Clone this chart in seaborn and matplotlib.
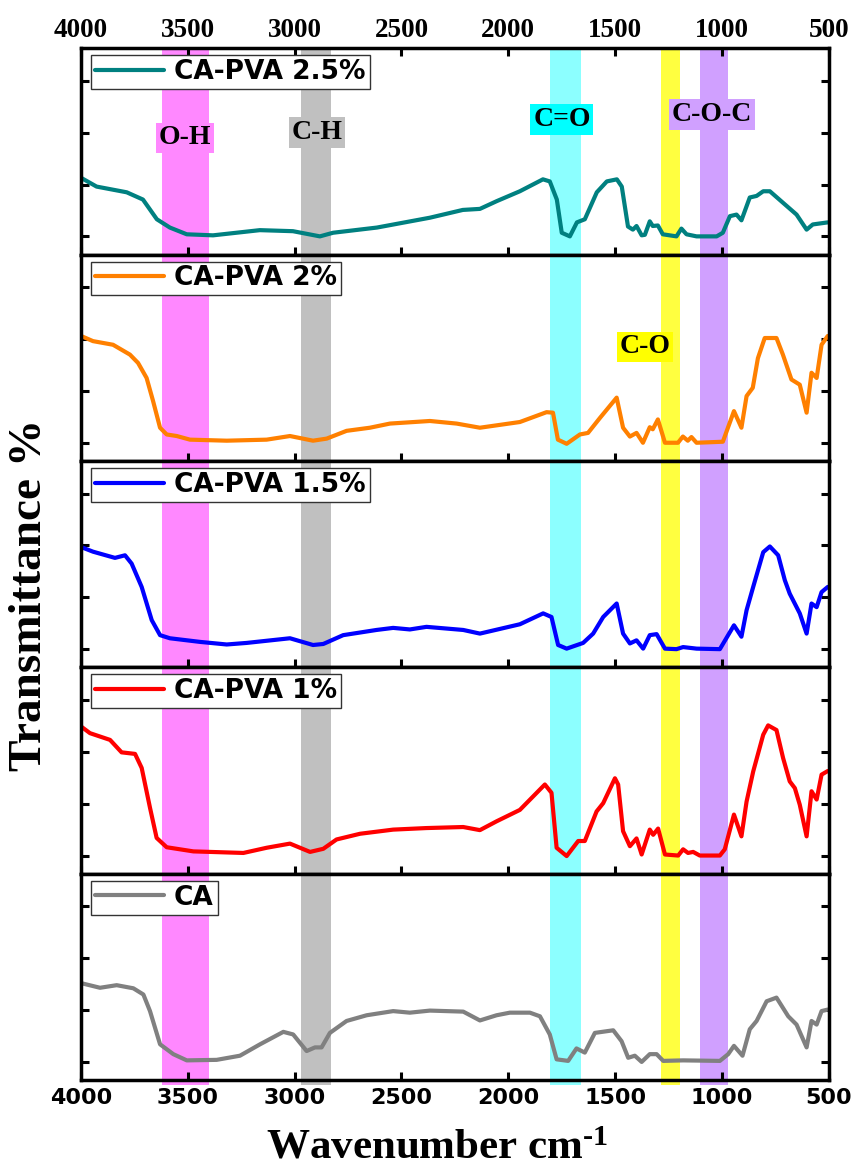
import matplotlib
matplotlib.use("Agg")
import matplotlib.pyplot as plt
import seaborn as sns
import pandas as pd

# ---------------- data ----------------
wn_t = [4000,3927,3786,3710,3645,3584,3505,3382,3163,3008,2882,2820,2615,2367,2213,2133,2054,1946,1838,1806,1773,1750,1712,1679,1642,1586,1539,1492,1469,1440,1417,1400,1376,1361,1338,1324,1300,1277,1213,1190,1166,1119,1025,996,963,932,909,870,838,807,776,715,651,604,575,505]
tr_t = [1.13,0.96,0.85,0.71,0.33,0.17,0.04,0.02,0.12,0.10,0.0,0.07,0.17,0.36,0.51,0.53,0.68,0.87,1.10,1.06,0.71,0.07,0.0,0.27,0.33,0.85,1.06,1.10,0.96,0.19,0.13,0.20,0.02,0.03,0.29,0.20,0.21,0.04,0.0,0.15,0.04,0.0,0.0,0.07,0.39,0.42,0.31,0.75,0.78,0.87,0.87,0.65,0.42,0.13,0.23,0.27]

wn_o = [4000,3944,3850,3771,3733,3693,3663,3630,3599,3552,3490,3318,3131,3022,2914,2850,2757,2648,2554,2367,2242,2133,1946,1821,1791,1768,1727,1665,1627,1571,1493,1463,1431,1400,1370,1338,1324,1300,1267,1206,1183,1160,1143,1119,996,944,909,885,856,832,800,745,715,675,636,604,581,557,534,505]
tr_o = [2.06,1.96,1.89,1.70,1.54,1.25,0.81,0.29,0.16,0.13,0.06,0.04,0.06,0.13,0.04,0.08,0.23,0.29,0.37,0.42,0.37,0.29,0.40,0.59,0.58,0.06,-0.02,0.16,0.19,0.48,0.87,0.29,0.12,0.19,0.0,0.30,0.26,0.45,0.0,0.0,0.12,0.04,0.11,0.0,0.02,0.61,0.29,0.90,1.06,1.63,2.02,2.02,1.70,1.22,1.12,0.58,1.35,1.25,1.89,2.06]

wn_b = [4000,3944,3841,3794,3763,3716,3669,3630,3584,3443,3318,3225,3022,2914,2866,2773,2617,2539,2461,2383,2211,2133,1946,1837,1798,1767,1727,1650,1603,1556,1493,1463,1431,1400,1369,1338,1306,1267,1213,1182,1119,1010,944,909,885,854,807,776,737,706,683,636,604,581,557,534,505]
tr_b = [1.97,1.88,1.76,1.81,1.65,1.20,0.56,0.27,0.21,0.14,0.09,0.12,0.21,0.08,0.10,0.27,0.37,0.41,0.38,0.43,0.37,0.30,0.48,0.69,0.62,0.08,0.01,0.12,0.30,0.62,0.88,0.30,0.11,0.17,0.01,0.27,0.29,0.01,0.0,0.04,0.01,0.0,0.46,0.24,0.75,1.20,1.87,1.98,1.81,1.33,1.07,0.69,0.30,0.88,0.81,1.10,1.20]

wn_r = [4000,3958,3864,3810,3747,3716,3677,3646,3599,3474,3240,3131,3022,2928,2866,2804,2694,2539,2383,2211,2133,2055,1946,1829,1798,1774,1727,1673,1642,1587,1556,1501,1486,1463,1431,1400,1376,1338,1322,1299,1267,1205,1182,1159,1135,1104,1010,987,944,909,885,854,807,784,745,714,683,659,636,604,581,557,534,505]
tr_r = [2.49,2.36,2.23,1.99,1.96,1.69,0.92,0.34,0.16,0.08,0.05,0.15,0.23,0.07,0.13,0.31,0.42,0.50,0.53,0.55,0.49,0.66,0.88,1.37,1.21,0.15,-0.01,0.28,0.28,0.85,1.01,1.49,1.37,0.47,0.18,0.33,0.02,0.50,0.40,0.52,0.02,0.0,0.12,0.05,0.07,0.0,0.0,0.12,0.79,0.37,1.04,1.62,2.33,2.51,2.42,1.88,1.43,1.30,0.98,0.37,1.24,1.08,1.56,1.63]

wn_g = [4000,3911,3833,3755,3708,3677,3630,3568,3505,3365,3256,3162,3053,3007,2944,2905,2874,2835,2757,2663,2539,2461,2367,2211,2133,2055,1993,1899,1852,1806,1774,1720,1681,1642,1595,1509,1470,1439,1408,1376,1338,1306,1275,1182,1010,971,944,904,870,838,791,745,690,651,604,581,557,534,505]
tr_g = [1.52,1.43,1.48,1.42,1.30,0.98,0.34,0.15,0.03,0.04,0.12,0.34,0.58,0.53,0.21,0.28,0.28,0.56,0.79,0.90,0.98,0.95,0.99,0.97,0.80,0.90,0.95,0.95,0.88,0.53,0.05,0.02,0.26,0.18,0.56,0.61,0.40,0.08,0.12,0.0,0.15,0.15,0.02,0.03,0.02,0.15,0.31,0.12,0.63,0.79,1.17,1.24,0.88,0.72,0.28,0.79,0.72,0.98,1.01]

series_names = ["CA-PVA 2.5%", "CA-PVA 2%", "CA-PVA 1.5%", "CA-PVA 1%", "CA"]
series_colors = ["#008080", "#FF8000", "#0000FF", "#FF0000", "#808080"]
series_wn = [wn_t, wn_o, wn_b, wn_r, wn_g]
series_tr = [tr_t, tr_o, tr_b, tr_r, tr_g]

band_names = ["O-H", "C-H", "C=O", "C-O", "C-O-C"]
band_ranges = [(3620, 3400), (2970, 2830), (1805, 1660), (1285, 1195), (1103, 972)]
band_colors = ["#FF88FF", "#C0C0C0", "#8CFFFF", "#FFFF40", "#D0A0FF"]
label_box_colors = ["#FF88FF", "#C0C0C0", "#00FFFF", "#FFFF00", "#D0A0FF"]
label_panel = [0, 0, 0, 1, 0]
label_x = [3513, 2896, 1749, 1361, 1048]
label_y = [1.90, 2.00, 2.25, 1.85, 2.35]

xticks = [4000, 3500, 3000, 2500, 2000, 1500, 1000, 500]

# ---------------- figure ----------------
sns.set_style("ticks")
plt.rcParams["font.family"] = ["DejaVu Sans"]
plt.rcParams["text.color"] = "black"
plt.rcParams["axes.edgecolor"] = "black"
plt.rcParams["xtick.color"] = "black"
plt.rcParams["ytick.color"] = "black"
plt.rcParams["xtick.labelcolor"] = "black"
plt.rcParams["mathtext.fontset"] = "custom"
plt.rcParams["mathtext.rm"] = "Liberation Serif:bold"
plt.rcParams["mathtext.bf"] = "Liberation Serif:bold"
plt.rcParams["mathtext.it"] = "Liberation Serif:bold:italic"

fig, axes = plt.subplots(5, 1, figsize=(8.58, 11.74), dpi=100,
                         gridspec_kw=dict(hspace=0))
fig.subplots_adjust(left=0.0944, right=0.966, top=0.959, bottom=0.080)

for i, ax in enumerate(axes):
    df = pd.DataFrame({"wn": series_wn[i], "T": series_tr[i]})
    for (lo, hi), c in zip(band_ranges, band_colors):
        if i == 4:
            ax.axvspan(lo, hi, ymin=-0.025, ymax=1, color=c, lw=0, zorder=0, clip_on=False)
        else:
            ax.axvspan(lo, hi, color=c, lw=0, zorder=0)
    sns.lineplot(data=df, x="wn", y="T", ax=ax, color=series_colors[i], lw=3.0,
                 sort=False, estimator=None, label=series_names[i], zorder=3)
    ax.lines[-1].set_solid_joinstyle("round")
    ax.lines[-1].set_solid_capstyle("round")
    ax.set_xlim(4000, 500)
    ax.set_ylim(-0.35, 3.63)
    ax.set_xticks(xticks)
    ax.set_yticks([0, 1, 2, 3])
    ax.set_yticklabels([])
    ax.set_xlabel("")
    ax.set_ylabel("")
    for s in ax.spines.values():
        s.set_linewidth(2.5)
        s.set_color("black")
        s.set_visible(True)
        s.set_zorder(5)
    ax.tick_params(axis="y", which="major", direction="in", left=True, right=True,
                   length=5.5, width=2.2, color="black", labelleft=False, labelright=False)
    ax.tick_params(axis="x", which="major", direction="in", bottom=True, top=(i == 0),
                   length=5.5, width=2.2, color="black", labelcolor="black",
                   labelbottom=(i == 4), labeltop=(i == 0),
                   pad=(4 if i == 0 else 6), labelsize=(19.5 if i == 0 else 16))
    leg = ax.legend(loc="upper left", bbox_to_anchor=(10 / 748, 1 - 7 / 207),
                    borderaxespad=0, frameon=True, fancybox=False, framealpha=1,
                    edgecolor="#333333", borderpad=0.15, handlelength=2.6,
                    handletextpad=0.4, prop=dict(family="DejaVu Sans", weight="bold", size=19))
    leg.get_frame().set_linewidth(1.0)
    leg.set_zorder(6)
    for txt in leg.get_texts():
        txt.set_color("black")
    for ln in leg.get_lines():
        ln.set_linewidth(3.0)

# tick label fonts
for t in axes[0].xaxis.get_major_ticks():
    t.label2.set_fontfamily("Liberation Serif")
    t.label2.set_fontweight("bold")
    t.label2.set_fontsize(19.5)
for t in axes[4].xaxis.get_major_ticks():
    t.label1.set_fontfamily("DejaVu Sans")
    t.label1.set_fontweight("bold")
    t.label1.set_fontsize(16)

# band labels
for name, bc, p, xx, yy in zip(band_names, label_box_colors, label_panel, label_x, label_y):
    axes[p].text(xx, yy, name, ha="center", va="center", family="Liberation Serif",
                 weight="bold", size=20, zorder=7, color="black",
                 bbox=dict(facecolor=bc, edgecolor="none", pad=2))

fig.text(0.035, 0.493, "Transmittance %", rotation=90, ha="center", va="center",
         family="Liberation Serif", weight="bold", size=34, color="black")
fig.text(0.51, 0.022, "Wavenumber cm$^{\\text{-1}}$", ha="center", va="center",
         family="Liberation Serif", weight="bold", size=31, color="black")

fig.savefig("out.png", dpi=100)
